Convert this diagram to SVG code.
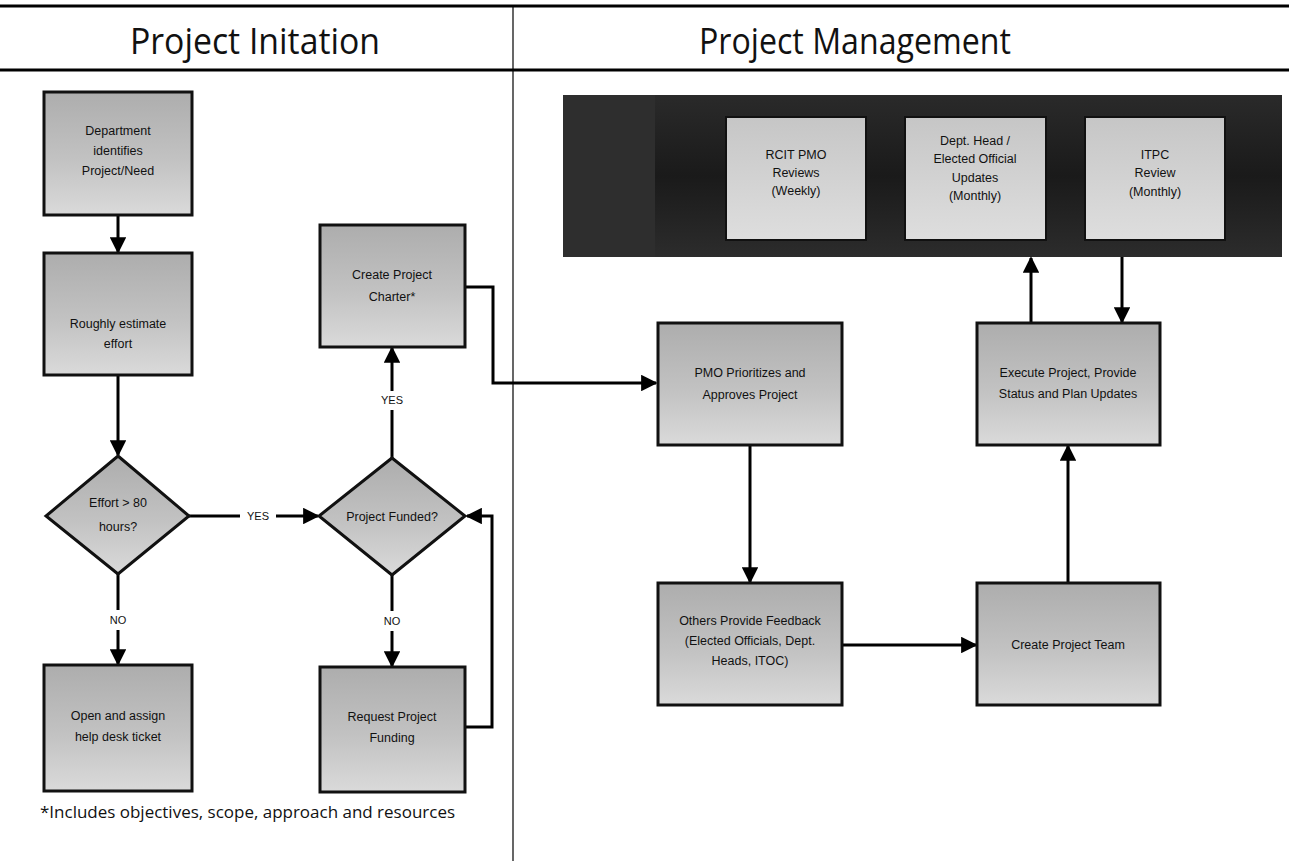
<svg xmlns="http://www.w3.org/2000/svg" width="1289" height="861" viewBox="0 0 1289 861">
<defs>
<linearGradient id="gbox" x1="0" y1="0" x2="0" y2="1">
<stop offset="0" stop-color="#adadad"/>
<stop offset="0.55" stop-color="#c2c2c2"/>
<stop offset="1" stop-color="#dadada"/>
</linearGradient>
<linearGradient id="gtop" x1="0" y1="0" x2="0" y2="1">
<stop offset="0" stop-color="#c6c6c6"/>
<stop offset="1" stop-color="#dedede"/>
</linearGradient>
<linearGradient id="gband" x1="0" y1="0" x2="0" y2="1">
<stop offset="0" stop-color="#2a2a2a"/>
<stop offset="0.5" stop-color="#1a1a1a"/>
<stop offset="1" stop-color="#2c2c2c"/>
</linearGradient>
<marker id="ah" viewBox="0 0 10 10" refX="9" refY="5" markerWidth="5.5" markerHeight="5.5" markerUnits="strokeWidth" orient="auto">
<path d="M0,0 L10,5 L0,10 z" fill="#000"/>
</marker>
</defs>
<style>
.box{fill:url(#gbox);stroke:#111;stroke-width:3}
.tbox{fill:url(#gtop);stroke:#111;stroke-width:2}
.t{font-family:"Liberation Sans",Arial,sans-serif;font-size:12.5px;fill:#111;text-anchor:middle}
.lbl{font-family:"Liberation Sans",Arial,sans-serif;font-size:11px;fill:#111;text-anchor:middle}
.title{font-family:"Open Sans","Liberation Sans",sans-serif;font-size:36px;fill:#111;text-anchor:middle}
.c{fill:none;stroke:#000;stroke-width:3;marker-end:url(#ah)}
.cn{fill:none;stroke:#000;stroke-width:3}
.rule{stroke:#000;stroke-width:3}
</style>
<rect width="1289" height="861" fill="#fff"/>

<g id="header">
<line class="rule" x1="0" y1="6" x2="1289" y2="6"/>
<line class="rule" x1="0" y1="70" x2="1289" y2="70"/>
<line x1="513" y1="6" x2="513" y2="861" stroke="#000" stroke-width="1.2"/>
<text class="title" x="255" y="54" textLength="250" lengthAdjust="spacingAndGlyphs">Project Initation</text>
<text class="title" x="855" y="54" textLength="312" lengthAdjust="spacingAndGlyphs">Project Management</text>
</g>

<g id="band">
<rect x="563" y="95" width="719" height="162" fill="url(#gband)"/>
<rect x="563" y="95" width="92" height="162" fill="#2e2e2e"/>
</g>

<g id="connectors">
<line class="c" x1="118" y1="215" x2="118" y2="252"/>
<line class="c" x1="118" y1="375" x2="118" y2="455"/>
<line class="cn" x1="118" y1="574" x2="118" y2="610"/>
<line class="c" x1="118" y1="630" x2="118" y2="664"/>
<line class="cn" x1="189" y1="516" x2="240" y2="516"/>
<line class="c" x1="276" y1="516" x2="318" y2="516"/>
<line class="cn" x1="392" y1="574" x2="392" y2="611"/>
<line class="c" x1="392" y1="631" x2="392" y2="666"/>
<line class="cn" x1="392" y1="458" x2="392" y2="410"/>
<line class="c" x1="392" y1="391" x2="392" y2="348"/>
<polyline class="c" points="466,727 492,727 492,516 467,516"/>
<polyline class="c" points="466,287 493,287 493,383 656,383"/>
<line class="c" x1="750" y1="446" x2="750" y2="582"/>
<line class="c" x1="843" y1="645" x2="976" y2="645"/>
<line class="c" x1="1068" y1="583" x2="1068" y2="446"/>
<line class="c" x1="1031" y1="322" x2="1031" y2="258"/>
<line class="c" x1="1122" y1="257" x2="1122" y2="322"/>
<text class="lbl" x="258" y="520">YES</text>
<text class="lbl" x="392" y="404">YES</text>
<text class="lbl" x="118" y="624">NO</text>
<text class="lbl" x="392" y="625">NO</text>
</g>

<g id="n-dept">
<rect class="box" x="44" y="92" width="148" height="123"/>
<text class="t" x="118" y="135">Department</text>
<text class="t" x="118" y="155">identifies</text>
<text class="t" x="118" y="175">Project/Need</text>
</g>
<g id="n-estimate">
<rect class="box" x="44" y="253" width="148" height="122"/>
<text class="t" x="118" y="328">Roughly estimate</text>
<text class="t" x="118" y="348">effort</text>
</g>
<g id="n-effort">
<polygon class="box" points="118,456 189,516 118,574 46,516"/>
<text class="t" x="118" y="507">Effort &gt; 80</text>
<text class="t" x="118" y="531">hours?</text>
</g>
<g id="n-helpdesk">
<rect class="box" x="44" y="665" width="148" height="126"/>
<text class="t" x="118" y="720">Open and assign</text>
<text class="t" x="118" y="741">help desk ticket</text>
</g>
<g id="n-funded">
<polygon class="box" points="392,458 465,516 392,575 319,516"/>
<text class="t" x="392" y="521">Project Funded?</text>
</g>
<g id="n-request">
<rect class="box" x="320" y="667" width="145" height="125"/>
<text class="t" x="392" y="721">Request Project</text>
<text class="t" x="392" y="742">Funding</text>
</g>
<g id="n-charter">
<rect class="box" x="320" y="225" width="145" height="122"/>
<text class="t" x="392" y="279">Create Project</text>
<text class="t" x="392" y="301">Charter*</text>
</g>

<g id="n-pmo">
<rect class="box" x="658" y="323" width="184" height="122"/>
<text class="t" x="750" y="377">PMO Prioritizes and</text>
<text class="t" x="750" y="399">Approves Project</text>
</g>
<g id="n-feedback">
<rect class="box" x="658" y="583" width="184" height="122"/>
<text class="t" x="750" y="625">Others Provide Feedback</text>
<text class="t" x="750" y="645">(Elected Officials, Dept.</text>
<text class="t" x="750" y="665">Heads, ITOC)</text>
</g>
<g id="n-team">
<rect class="box" x="977" y="583" width="183" height="122"/>
<text class="t" x="1068" y="649">Create Project Team</text>
</g>
<g id="n-execute">
<rect class="box" x="977" y="323" width="183" height="122"/>
<text class="t" x="1068" y="377">Execute Project, Provide</text>
<text class="t" x="1068" y="398">Status and Plan Updates</text>
</g>

<g id="n-rcit">
<rect class="tbox" x="726" y="117" width="140" height="123"/>
<text class="t" x="796" y="159">RCIT PMO</text>
<text class="t" x="796" y="177">Reviews</text>
<text class="t" x="796" y="195">(Weekly)</text>
</g>
<g id="n-depthead">
<rect class="tbox" x="905" y="117" width="141" height="123"/>
<text class="t" x="975" y="145">Dept. Head /</text>
<text class="t" x="975" y="163">Elected Official</text>
<text class="t" x="975" y="182">Updates</text>
<text class="t" x="975" y="200">(Monthly)</text>
</g>
<g id="n-itpc">
<rect class="tbox" x="1085" y="117" width="140" height="123"/>
<text class="t" x="1155" y="159">ITPC</text>
<text class="t" x="1155" y="177">Review</text>
<text class="t" x="1155" y="196">(Monthly)</text>
</g>

<g id="footnote">
<text x="40" y="818" font-family="Open Sans, Liberation Sans, sans-serif" font-size="16" fill="#111" textLength="415" lengthAdjust="spacingAndGlyphs">*Includes objectives, scope, approach and resources</text>
</g>
</svg>
